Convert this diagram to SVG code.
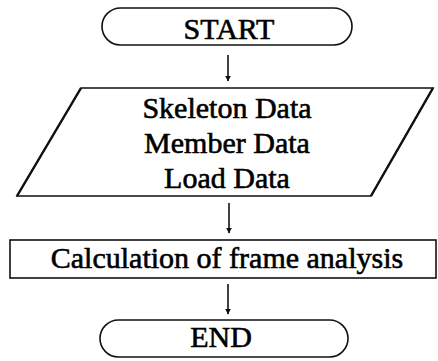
<svg xmlns="http://www.w3.org/2000/svg" width="438" height="361" viewBox="0 0 438 361">
  <style>
    .shape { fill: #ffffff; stroke: #111111; stroke-width: 1.6; }
    .label { font-family: "Liberation Serif", "Times New Roman", serif; font-size: 30px; fill: #000000; stroke: #000000; stroke-width: 0.6; text-anchor: middle; }
    .conn { stroke: #111111; stroke-width: 1.6; fill: none; marker-end: url(#arrow); }
  </style>
  <defs>
    <marker id="arrow" viewBox="0 0 10 10" refX="9" refY="5" markerWidth="6" markerHeight="7" markerUnits="userSpaceOnUse" orient="auto">
      <path d="M0,0 L10,5 L0,10 Z" fill="#111111"/>
    </marker>
  </defs>
  <rect width="438" height="361" fill="#ffffff"/>

  <g id="connectors">
    <line class="conn" x1="228" y1="55" x2="228" y2="81"/>
    <line class="conn" x1="229" y1="203" x2="229" y2="233"/>
    <line class="conn" x1="228" y1="284" x2="228" y2="314"/>
  </g>

  <g id="start">
    <rect class="shape" x="102" y="8" width="250" height="37" rx="18.5" ry="18.5"/>
    <text class="label" x="229" y="39">START</text>
  </g>

  <g id="input-data">
    <polygon class="shape" points="81,88 433,88 371,196 17,196"/>
    <!-- slanted sides are drawn heavier -->
    <line x1="81" y1="88" x2="17" y2="196" stroke="#111111" stroke-width="2.4"/>
    <line x1="433" y1="88" x2="371" y2="196" stroke="#111111" stroke-width="2.4"/>
    <text class="label" x="227" y="118">Skeleton Data</text>
    <text class="label" x="227" y="153">Member Data</text>
    <text class="label" x="227" y="188">Load Data</text>
  </g>

  <g id="calculation">
    <rect class="shape" x="10" y="240" width="426" height="38"/>
    <text class="label" x="227" y="268">Calculation of frame analysis</text>
  </g>

  <g id="end">
    <rect class="shape" x="100" y="320" width="248" height="37" rx="18.5" ry="18.5"/>
    <text class="label" x="221" y="347">END</text>
  </g>
</svg>
